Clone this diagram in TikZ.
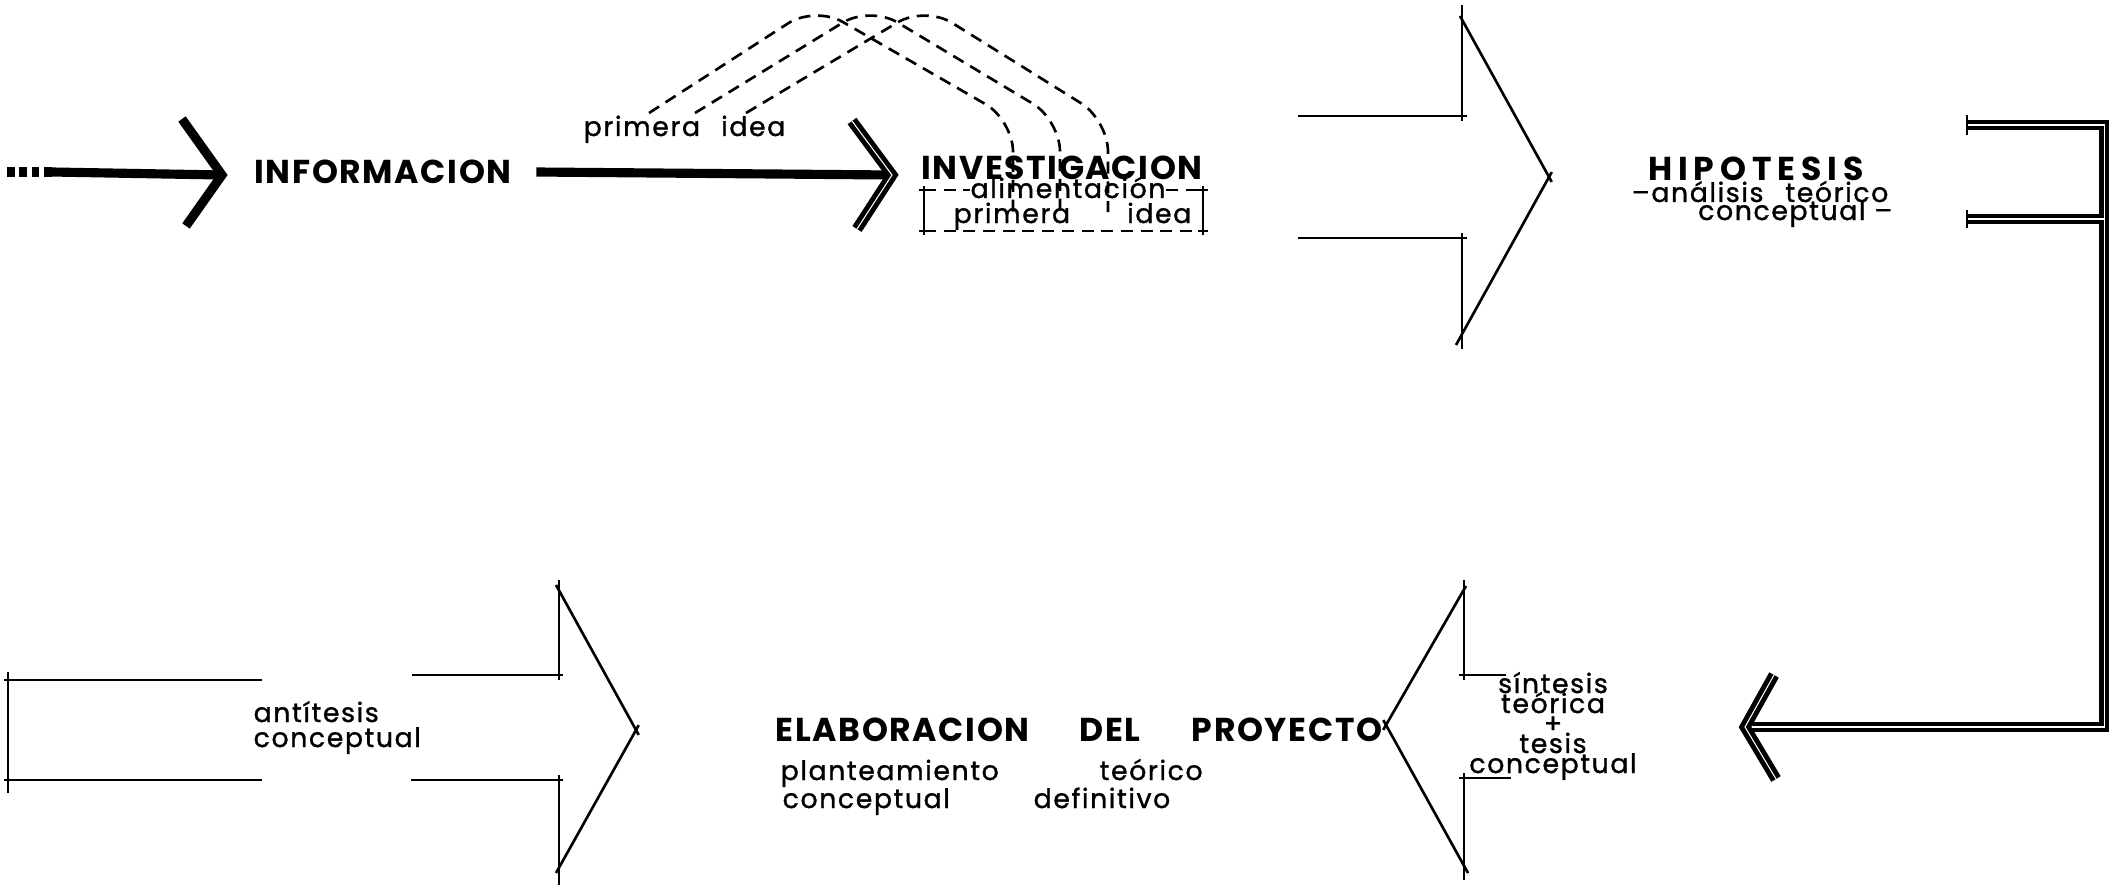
\documentclass[tikz,border=0pt]{standalone}
\usepackage{fontspec}
\setmainfont{Poppins}
\usetikzlibrary{positioning}

\tikzset{
  pen/.style={line width=0.75pt},
  heavy/.style={line width=2.6pt},
  dbl/.style={line width=1.4pt, double=white, double distance=0.3pt},
  dsh/.style={pen, dash pattern=on 3.4pt off 2.2pt},
  overrun/.style={shorten >=-1.6pt},
  caps/.style={inner sep=0pt, font=\fontsize{9.4}{10}\selectfont\bfseries\addfontfeatures{LetterSpace=5}},
  lab/.style={inner sep=0pt, anchor=base, font=\fontsize{7.6}{9}\selectfont\addfontfeatures{LetterSpace=6,FakeBold=1.2}}
}

\begin{document}
\begin{tikzpicture}[x=0.01cm, y=-0.01cm]
\useasboundingbox (0,0) rectangle (2113,891);

%top row
\coordinate (tipA) at (222,175);
\coordinate (tipB) at (892,175);
\draw[heavy, dash pattern=on 2.2pt off 1.3pt] (7,172) -- (52,172);
\draw[heavy] (52,172) -- (tipA);
\draw[heavy] (182,119) -- (tipA) -- (186,226);
\node[caps] (info) at (383,172) {INFORMACION};
\draw[heavy] ([xshift=0.24cm]info.east) -- (tipB);
\draw[dbl] (852,121) -- (tipB) -- (857,229);

\node[lab, anchor=base west] (pidea) at (583,136) {primera};
\node[lab, anchor=base east] (pideb) at (786,136) {idea};

%investigacion
\node[caps] (inv) at (1062,168) {INVESTIGACION};
\node[lab] (alim) at (1068,198) {alimentación};
\node[lab, anchor=base west] (prim) at (953,223) {primera};
\node[lab, anchor=base east] (idea) at (1192,223) {idea};
\draw[dsh] (924,190) -- (alim.west |- 924,190);
\draw[dsh] (alim.east |- 924,190) -- (1203,190);
\draw[dsh] (924,231) -- (1203,231);
\draw[pen] (924,186) -- (924,235) (1203,186) -- (1203,235);
\foreach \x in {924,1203}
  \foreach \y in {190,231}
    \draw[pen] (\x-5,\y) -- (\x+5,\y);

%dashed feed lines
\foreach \a/\b/\c in {649/815/1013, 695/870/1060, 746/925/1108}
  \draw[dsh, rounded corners=9pt] (\a,113) -- (\b,6) -- (\c,120) -- (\c,212);

%arrow to hipotesis
\coordinate (tipC) at (1549,177);
\draw[pen] (1298,116) -- (1467,116) (1298,238) -- (1467,238);
\draw[pen] (1462,5) -- (1462,121) (1462,233) -- (1462,349);
\draw[pen, overrun] (1460,16) -- (tipC);
\draw[pen, overrun] (1456,345) -- (tipC);

\node[caps] (hipo) at (1756,169) {\addfontfeatures{LetterSpace=18}HIPOTESIS};
\node[lab, anchor=base west] (hipoa) at (1631,202) {–análisis};
\node[lab, anchor=base east] (hipob) at (1889,202) {teórico};
\node[lab, anchor=base east] (hipoc) at (1893,220) {conceptual –};

%return bracket
\coordinate (tipD) at (1745,727);
\draw[dbl] (1967,125) -- (2104,125) -- (2104,727) -- (tipD);
\draw[dbl] (1967,219) -- (2104,219);
\draw[pen] (1967,115) -- (1967,135) (1967,210) -- (1967,228);
\draw[dbl] (1774,675) -- (tipD) -- (1776,779);

%arrow from sintesis
\coordinate (tipE) at (1386,725);
\draw[pen] (1464,580) -- (1464,680) (1464,773) -- (1464,880);
\draw[pen] (1459,675) -- (1506,675) (1459,778) -- (1511,778);
\draw[pen, overrun] (1466,586) -- (tipE);
\draw[pen, overrun] (1468,873) -- (tipE);
\foreach \t/\y [count=\i] in {síntesis/693, teórica/713, +/733, tesis/753, conceptual/773}
  \node[lab] (sint\i) at (1553,\y) {\t};

%elaboracion
\node[caps, anchor=west] (elab) at (775,730) {ELABORACION};
\node[caps, anchor=west] (del) at (1079,730) {DEL};
\node[caps, anchor=west] (proy) at (1191,730) {PROYECTO};
\node[lab, anchor=base west] (plan) at (780,780) {planteamiento};
\node[lab, anchor=base west] (teor) at (1099,780) {teórico};
\node[lab, anchor=base west] (conc) at (782,808) {conceptual};
\node[lab, anchor=base west] (defi) at (1033,808) {definitivo};

%arrow of antitesis
\coordinate (tipF) at (636,730);
\draw[pen] (8,672) -- (8,793);
\draw[pen] (4,680) -- (262,680) (4,780) -- (262,780);
\draw[pen] (412,675) -- (563,675) (411,780) -- (563,780);
\draw[pen] (559,580) -- (559,680) (559,775) -- (559,885);
\draw[pen, overrun] (556,585) -- (tipF);
\draw[pen, overrun] (556,873) -- (tipF);
\node[lab, anchor=base west] (anti) at (253,722) {antítesis};
\node[lab, anchor=base west] (antib) at (253,747) {conceptual};

\end{tikzpicture}
\end{document}
